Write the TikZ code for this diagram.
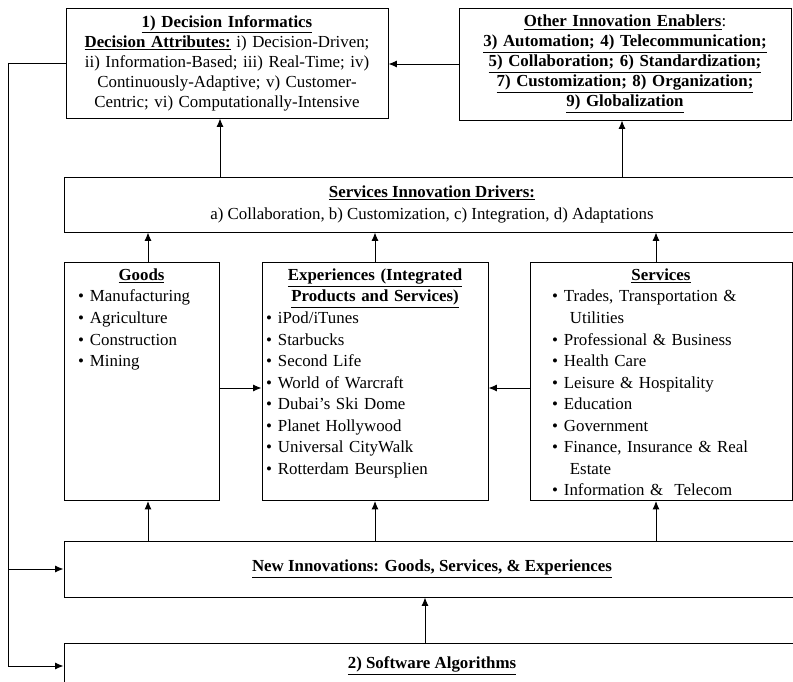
\documentclass[tikz,border=0pt]{standalone}
\usepackage{fontspec}
\setmainfont{Liberation Serif}
\usepackage{tikz}
\usetikzlibrary{arrows.meta,calc}

\newcommand{\bul}{\textbullet\hspace{0.15cm}}

\begin{document}
\begin{tikzpicture}[>={Latex[length=6pt,width=5pt]}, line width=0.7pt,
	topbox/.style={draw, align=center, inner sep=0pt, font=\fontsize{12}{14.2}\selectfont},
	widebox/.style={draw, align=center, inner sep=0pt, minimum width=18.4cm, font=\fontsize{12}{15.6}\selectfont},
	listbox/.style={draw, anchor=north, align=left, inner sep=0pt, text height=0.45cm, text depth=5.5cm, font=\fontsize{12}{15.3}\selectfont}]

	\clip (0,0) rectangle (19.825,17.025);

	\node[topbox, text width=8.05cm, minimum height=2.75cm] (dec) at (5.675,15.45)
	      {\underline{\textbf{1) Decision Informatics}}\\
	       \underline{\textbf{Decision Attributes:}} i) Decision-Driven;\\
	       ii) Information-Based; iii) Real-Time; iv)\\
	       Continuously-Adaptive; v) Customer-\\
	       Centric; vi) Computationally-Intensive};
	\node[topbox, text width=8.3cm, minimum height=2.8cm] (enab) at (15.625,15.425)
	      {\underline{\textbf{Other Innovation Enablers}}:\\
	       \underline{\textbf{3) Automation; 4) Telecommunication;}}\\
	       \underline{\textbf{5) Collaboration; 6) Standardization;}}\\
	       \underline{\textbf{7) Customization; 8) Organization;}}\\
	       \underline{\textbf{9) Globalization}}};

	\node[widebox, minimum height=1.375cm] (drv) at (10.8,11.9125)
	      {\underline{\textbf{Services Innovation Drivers:}}\\
	       a) Collaboration, b) Customization, c) Integration, d) Adaptations};

	\node[listbox, text width=3.875cm] (goods) at (3.5375,10.475)
	      {{\centering\underline{\textbf{Goods}}\par}
	       \hspace*{0.35cm}\bul Manufacturing\\
	       \hspace*{0.35cm}\bul Agriculture\\
	       \hspace*{0.35cm}\bul Construction\\
	       \hspace*{0.35cm}\bul Mining};
	\node[listbox, text width=5.65cm] (exp) at (9.375,10.475)
	      {{\centering\underline{\textbf{Experiences (Integrated}}\\
	        \underline{\textbf{Products and Services)}}\par}
	       \hspace*{0.1cm}\bul iPod/iTunes\\
	       \hspace*{0.1cm}\bul Starbucks\\
	       \hspace*{0.1cm}\bul Second Life\\
	       \hspace*{0.1cm}\bul World of Warcraft\\
	       \hspace*{0.1cm}\bul Dubai's Ski Dome\\
	       \hspace*{0.1cm}\bul Planet Hollywood\\
	       \hspace*{0.1cm}\bul Universal CityWalk\\
	       \hspace*{0.1cm}\bul Rotterdam Beursplien};
	\node[listbox, text width=6.55cm] (serv) at (16.525,10.475)
	      {{\centering\underline{\textbf{Services}}\par}
	       \hspace*{0.55cm}\bul Trades, Transportation \&\\
	       \hspace*{0.55cm}\phantom{\bul}\hspace{0.15cm}Utilities\\
	       \hspace*{0.55cm}\bul Professional \& Business\\
	       \hspace*{0.55cm}\bul Health Care\\
	       \hspace*{0.55cm}\bul Leisure \& Hospitality\\
	       \hspace*{0.55cm}\bul Education\\
	       \hspace*{0.55cm}\bul Government\\
	       \hspace*{0.55cm}\bul Finance, Insurance \& Real\\
	       \hspace*{0.55cm}\phantom{\bul}\hspace{0.15cm}Estate\\
	       \hspace*{0.55cm}\bul Information \&\ \ Telecom};

	\node[widebox, minimum height=1.4cm] (newinn) at (10.8,2.8)
	      {\underline{\textbf{New Innovations: Goods, Services, \& Experiences}}};
	\node[widebox, minimum height=1.15cm] (soft) at (10.8,0.375)
	      {\underline{\textbf{2) Software Algorithms}}};

	% upward flow
	\draw[->] (drv.north -| 5.5,0)    -- (dec.south -| 5.5,0);
	\draw[->] (drv.north -| 15.55,0)  -- (enab.south -| 15.55,0);
	\draw[->] (enab.west) -- (enab.west -| dec.east);
	\draw[->] (goods.north -| 3.7,0)  -- (drv.south -| 3.7,0);
	\draw[->] (exp.north)             -- (drv.south -| exp.north);
	\draw[->] (serv.north -| 16.4,0)  -- (drv.south -| 16.4,0);
	\draw[->] (goods.east |- 0,7.325) -- (exp.west |- 0,7.325);
	\draw[->] (serv.west |- 0,7.325)  -- (exp.east |- 0,7.325);
	\draw[->] (newinn.north -| 3.7,0) -- (goods.south -| 3.7,0);
	\draw[->] (newinn.north -| exp.north) -- (exp.south);
	\draw[->] (newinn.north -| 16.4,0) -- (serv.south -| 16.4,0);
	\draw[->] (soft.north -| 10.625,0) -- (newinn.south -| 10.625,0);

	% feedback
	\coordinate (fbk) at (0.2,15.45);
	\draw[->] (dec.west) -- (fbk) |- (newinn.west);
	\draw[->] (fbk) |- (soft.west);
\end{tikzpicture}
\end{document}
